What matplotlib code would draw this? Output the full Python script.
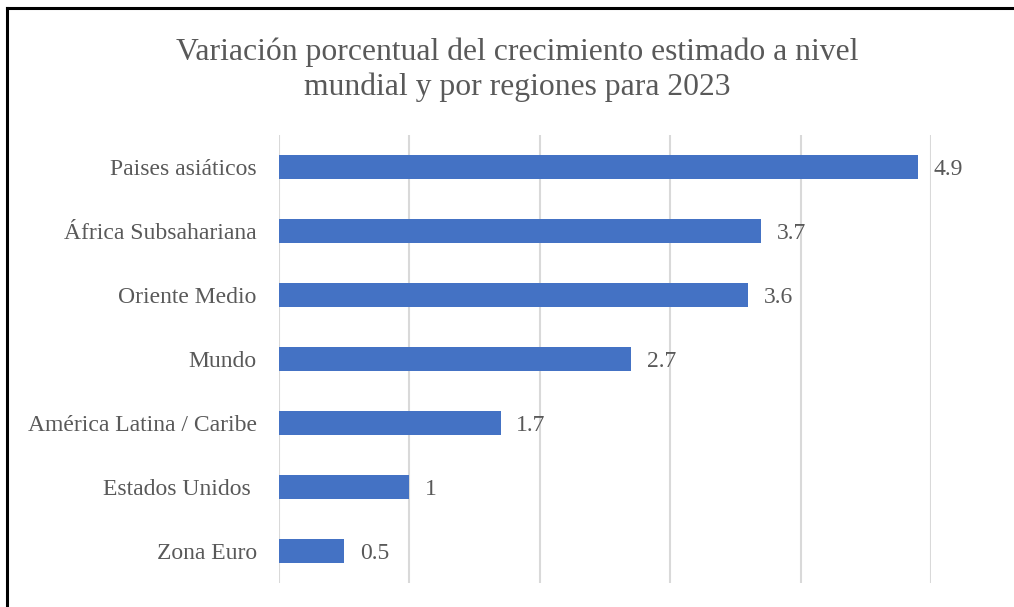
import matplotlib.pyplot as plt
from matplotlib.lines import Line2D

# データ
categories = ["Paises asiáticos", "África Subsahariana", "Oriente Medio", "Mundo",
              "América Latina / Caribe", "Estados Unidos ", "Zona Euro"]
values = [4.9, 3.7, 3.6, 2.7, 1.7, 1, 0.5]
value_labels = ["4.9", "3.7", "3.6", "2.7", "1.7", "1", "0.5"]
title = "Variación porcentual del crecimiento estimado a nivel\nmundial y por regiones para 2023"

TEXT = "#595959"
BAR = "#4472C4"
W, H = 1014, 607

plt.rcParams['font.family'] = ['Liberation Serif', 'DejaVu Serif']

fig = plt.figure(figsize=(W / 100, H / 100), dpi=100)
ax = fig.add_axes([279 / W, 1 - 583 / H, (931 - 279) / W, (583 - 135) / H])

y = list(range(len(categories)))
ax.barh(y, values, height=0.36, color=BAR, zorder=2)
for yi, v, lab in zip(y, values, value_labels):
    ax.text(v + 0.12, yi + 0.04, lab, va='center', ha='left', fontsize=17, color=TEXT)

ax.set_xlim(0, 5)
ax.set_ylim(len(categories) - 0.5, -0.5)
ax.set_xticks(range(0, 6))
ax.set_xticklabels([])
ax.tick_params(axis='x', length=0)
ax.set_yticks(y)
ax.set_yticklabels(categories, fontsize=17, color=TEXT)
ax.tick_params(axis='y', length=0, pad=16)
ax.grid(axis='x', color='#D9D9D9', linewidth=1.5, zorder=0)
for s in ax.spines.values():
    s.set_visible(False)

fig.text(517 / W, 1 - 70 / H, title, ha='center', va='center', fontsize=22.8,
         color=TEXT, linespacing=1.25)

# 枠線（左と上のみ）
fig.add_artist(Line2D([7 / W, 7 / W], [1 - 8 / H, 0], color='black', linewidth=2.2,
                      transform=fig.transFigure))
fig.add_artist(Line2D([7 / W, 1], [1 - 8 / H, 1 - 8 / H], color='black', linewidth=2.2,
                      transform=fig.transFigure))

fig.savefig("out.png", dpi=100)
